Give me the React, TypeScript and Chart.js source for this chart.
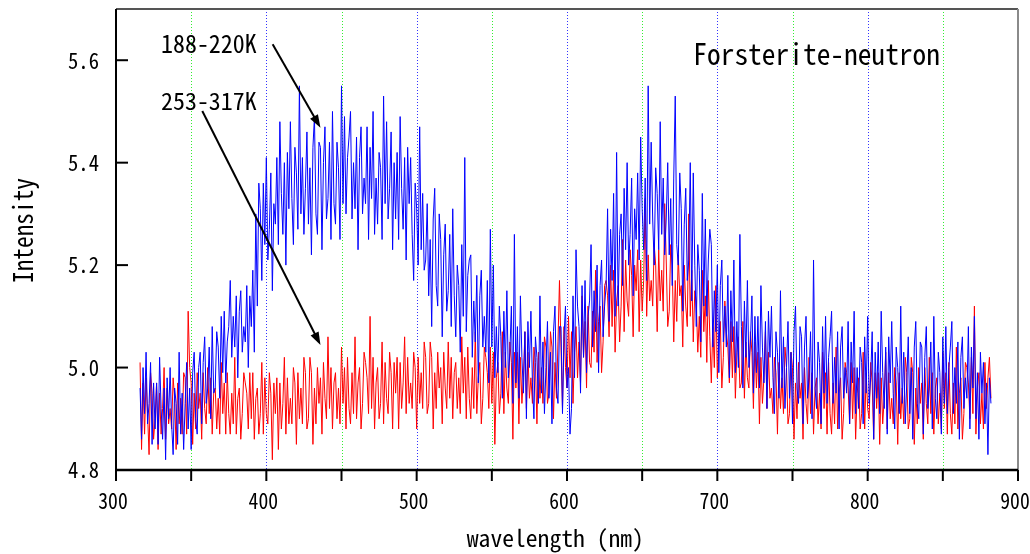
import React, { useEffect, useRef } from "react";
import { Chart, registerables } from "chart.js";

Chart.register(...registerables);

// ---------------- data ----------------
const wavelengthStart = 316; // nm
const wavelengthStep = 1; // nm

// 188-220K (blue), 316..882 nm
const intensity188to220K = [
  4.96, 4.86, 5.00, 4.91, 5.03, 4.89, 4.93, 5.01, 4.85, 4.97,
  4.88, 4.97, 4.85, 5.02, 4.92, 4.86, 4.96, 4.82, 4.98, 4.90,
  5.00, 4.89, 4.83, 4.96, 4.93, 4.85, 5.03, 4.87, 4.95, 4.84,
  4.93, 5.01, 4.88, 4.96, 4.84, 4.99, 5.03, 4.90, 4.87, 5.00,
  5.03, 4.89, 5.01, 5.06, 4.93, 4.96, 5.04, 4.90, 5.08, 4.95,
  4.96, 5.07, 5.04, 4.94, 5.10, 4.99, 5.11, 4.97, 5.05, 5.08,
  5.17, 5.02, 5.10, 5.04, 5.14, 4.98, 5.11, 5.15, 5.03, 5.08,
  5.05, 5.16, 5.00, 5.14, 5.08, 5.19, 5.03, 5.30, 5.12, 5.36,
  5.31, 5.17, 5.36, 5.24, 5.41, 5.21, 5.27, 5.38, 5.15, 5.32,
  5.28, 5.41, 5.24, 5.48, 5.34, 5.26, 5.40, 5.20, 5.42, 5.31,
  5.48, 5.33, 5.24, 5.43, 5.38, 5.27, 5.55, 5.30, 5.41, 5.26,
  5.35, 5.46, 5.28, 5.39, 5.22, 5.43, 5.49, 5.30, 5.26, 5.44,
  5.43, 5.23, 5.40, 5.47, 5.29, 5.33, 5.44, 5.25, 5.50, 5.32,
  5.28, 5.44, 5.39, 5.25, 5.55, 5.32, 5.49, 5.30, 5.41, 5.45,
  5.50, 5.29, 5.40, 5.31, 5.45, 5.23, 5.41, 5.47, 5.30, 5.37,
  5.32, 5.47, 5.25, 5.43, 5.33, 5.50, 5.26, 5.37, 5.28, 5.42,
  5.39, 5.25, 5.53, 5.32, 5.48, 5.29, 5.35, 5.46, 5.23, 5.40,
  5.29, 5.42, 5.25, 5.49, 5.35, 5.27, 5.41, 5.21, 5.43, 5.32,
  5.41, 5.26, 5.17, 5.36, 5.31, 5.20, 5.47, 5.23, 5.34, 5.19,
  5.21, 5.32, 5.14, 5.25, 5.08, 5.29, 5.35, 5.16, 5.12, 5.30,
  5.25, 5.06, 5.22, 5.28, 5.11, 5.15, 5.26, 5.08, 5.31, 5.14,
  5.06, 5.20, 5.16, 5.03, 5.24, 5.10, 5.41, 5.07, 5.18, 5.21,
  5.22, 5.02, 5.13, 5.05, 5.18, 4.97, 5.14, 5.19, 5.04, 5.10,
  5.03, 5.17, 4.97, 5.27, 5.04, 5.20, 4.98, 5.08, 4.99, 5.12,
  5.06, 4.94, 5.11, 5.00, 5.15, 4.98, 5.03, 5.12, 4.93, 5.26,
  4.97, 5.08, 4.94, 5.14, 5.02, 4.95, 5.07, 4.90, 5.09, 5.00,
  5.11, 4.97, 4.90, 5.06, 5.02, 4.93, 5.14, 4.95, 5.05, 4.91,
  5.00, 5.09, 4.94, 5.03, 4.89, 5.07, 5.12, 4.96, 4.93, 5.08,
  5.08, 4.91, 5.06, 5.12, 4.96, 5.00, 4.87, 4.92, 5.14, 4.98,
  5.23, 5.12, 5.08, 4.95, 5.16, 5.02, 5.17, 4.99, 5.10, 5.13,
  5.24, 5.04, 5.15, 5.07, 5.20, 4.99, 5.16, 5.21, 5.06, 5.12,
  5.16, 5.31, 5.09, 5.27, 5.17, 5.34, 5.10, 5.42, 5.12, 5.26,
  5.30, 5.16, 5.35, 5.23, 5.40, 5.20, 5.26, 5.37, 5.14, 5.31,
  5.25, 5.38, 5.21, 5.45, 5.31, 5.23, 5.37, 5.17, 5.55, 5.28,
  5.44, 5.29, 5.20, 5.39, 5.34, 5.23, 5.48, 5.26, 5.37, 5.22,
  5.29, 5.40, 5.22, 5.33, 5.16, 5.37, 5.53, 5.24, 5.20, 5.38,
  5.31, 5.11, 5.28, 5.35, 5.17, 5.21, 5.40, 5.13, 5.38, 5.20,
  5.08, 5.24, 5.19, 5.05, 5.34, 5.12, 5.29, 5.10, 5.21, 5.27,
  5.24, 5.04, 5.15, 5.07, 5.20, 4.99, 5.16, 5.21, 5.05, 5.12,
  5.04, 5.18, 4.98, 5.15, 5.05, 5.21, 4.99, 5.09, 5.00, 5.26,
  5.08, 4.96, 5.13, 5.02, 5.17, 5.00, 5.05, 5.14, 4.95, 5.10,
  4.99, 5.10, 4.96, 5.16, 5.04, 4.97, 5.09, 4.92, 5.11, 5.02,
  5.12, 4.98, 4.91, 5.07, 5.03, 4.94, 5.15, 4.96, 5.06, 4.92,
  5.00, 5.09, 4.94, 5.03, 4.89, 5.07, 5.12, 4.96, 4.93, 5.08,
  5.06, 4.89, 5.04, 5.10, 4.94, 4.98, 5.07, 4.90, 5.21, 4.96,
  4.92, 5.05, 5.01, 4.89, 5.08, 4.95, 5.10, 4.93, 5.02, 5.06,
  5.11, 4.93, 5.02, 4.95, 5.07, 4.88, 5.04, 5.08, 4.94, 5.00,
  4.95, 5.09, 4.89, 5.05, 4.97, 5.11, 4.91, 5.00, 4.92, 5.04,
  5.01, 4.89, 5.06, 4.95, 5.10, 4.93, 4.98, 5.07, 4.86, 5.03,
  4.94, 5.05, 4.91, 5.11, 4.99, 4.92, 5.04, 4.87, 5.06, 4.97,
  5.09, 4.95, 4.88, 5.04, 5.00, 4.91, 5.12, 4.93, 5.03, 4.89,
  4.97, 5.06, 4.91, 5.00, 4.86, 5.04, 5.09, 4.93, 4.90, 5.05,
  5.04, 4.87, 5.02, 5.08, 4.92, 4.96, 5.05, 4.88, 5.10, 4.94,
  4.90, 5.03, 4.99, 4.87, 5.06, 4.93, 5.08, 4.91, 5.00, 5.04,
  5.09, 4.91, 5.00, 4.93, 5.05, 4.86, 5.02, 5.06, 4.92, 4.98,
  4.94, 5.08, 4.88, 5.04, 4.96, 5.10, 4.90, 4.99, 4.86, 5.03,
  4.95, 5.01, 4.89, 4.97, 4.83, 4.98, 4.93,
];

// 253-317K (red), 316..882 nm
const intensity253to317K = [
  5.01, 4.84, 4.97, 4.87, 4.98, 4.91, 4.83, 4.99, 4.95, 4.86,
  4.90, 4.97, 4.84, 4.95, 4.87, 4.92, 5.00, 4.86, 4.96, 4.89,
  4.92, 4.88, 4.98, 4.94, 4.84, 4.97, 4.89, 4.94, 4.87, 4.99,
  4.98, 4.87, 5.11, 5.00, 4.97, 4.85, 4.95, 4.88, 4.99, 4.92,
  4.95, 4.86, 4.99, 4.92, 4.89, 5.00, 4.91, 4.98, 4.87, 4.95,
  4.96, 4.88, 4.94, 4.87, 5.01, 4.91, 4.97, 4.87, 4.99, 4.91,
  4.87, 4.95, 4.89, 5.02, 4.87, 4.94, 4.96, 4.86, 4.91, 4.99,
  4.97, 4.95, 4.88, 4.99, 4.90, 4.99, 4.86, 4.94, 4.96, 4.87,
  4.91, 5.01, 4.87, 4.98, 4.91, 4.89, 4.99, 4.95, 4.82, 4.97,
  4.91, 4.98, 4.84, 4.97, 4.88, 4.93, 5.02, 4.87, 4.98, 4.89,
  4.94, 4.89, 5.00, 4.97, 4.85, 4.99, 4.90, 4.96, 4.89, 5.02,
  4.99, 4.88, 4.90, 5.02, 4.99, 4.85, 4.96, 4.89, 5.00, 4.93,
  4.98, 4.87, 5.01, 4.94, 4.90, 5.06, 4.92, 5.00, 4.88, 4.97,
  4.99, 4.90, 4.96, 4.89, 5.04, 4.93, 5.00, 4.88, 5.02, 4.92,
  4.89, 4.99, 4.91, 5.06, 4.90, 4.97, 5.00, 4.88, 4.93, 5.03,
  5.01, 4.98, 4.91, 5.10, 4.92, 5.02, 4.88, 4.97, 5.00, 4.90,
  4.93, 5.05, 4.89, 5.01, 4.94, 4.91, 5.03, 4.99, 4.88, 5.01,
  4.95, 5.02, 4.88, 5.01, 4.92, 4.97, 5.06, 4.91, 5.02, 4.93,
  4.97, 4.92, 5.03, 5.00, 4.88, 5.02, 4.93, 4.99, 4.92, 5.05,
  5.02, 4.91, 4.93, 5.05, 5.02, 4.88, 4.99, 4.92, 5.03, 4.96,
  5.00, 4.89, 5.03, 4.96, 4.92, 5.05, 4.94, 5.02, 4.90, 4.99,
  5.01, 4.92, 4.98, 4.91, 5.06, 4.95, 5.02, 4.90, 5.04, 4.94,
  4.90, 5.00, 4.92, 5.07, 4.91, 4.98, 5.01, 4.89, 4.94, 5.04,
  5.02, 4.99, 4.92, 5.04, 4.93, 5.03, 4.85, 4.98, 5.01, 4.91,
  4.95, 5.07, 4.91, 5.03, 4.96, 4.93, 5.05, 5.01, 4.86, 5.03,
  4.96, 5.03, 4.89, 5.02, 4.93, 4.98, 5.07, 4.92, 5.03, 4.94,
  4.98, 4.93, 5.04, 5.01, 4.89, 5.03, 4.94, 5.00, 4.93, 5.06,
  5.04, 4.93, 4.95, 5.07, 5.04, 4.90, 5.01, 4.94, 5.05, 5.17,
  5.04, 4.92, 5.08, 5.00, 4.96, 5.10, 4.98, 5.07, 4.93, 5.03,
  5.08, 4.98, 5.05, 4.97, 5.14, 5.02, 5.09, 4.96, 5.12, 5.01,
  5.00, 5.11, 5.03, 5.19, 5.01, 5.09, 5.12, 4.99, 5.05, 5.16,
  5.17, 5.14, 5.06, 5.20, 5.08, 5.19, 5.03, 5.13, 5.16, 5.05,
  5.12, 5.25, 5.07, 5.21, 5.13, 5.10, 5.23, 5.18, 5.06, 5.20,
  5.15, 5.23, 5.07, 5.21, 5.11, 5.17, 5.33, 5.10, 5.22, 5.13,
  5.17, 5.12, 5.24, 5.20, 5.07, 5.23, 5.13, 5.19, 5.11, 5.32,
  5.21, 5.08, 5.11, 5.24, 5.20, 5.05, 5.17, 5.09, 5.22, 5.14,
  5.16, 5.04, 5.20, 5.12, 5.08, 5.30, 5.10, 5.19, 5.05, 5.15,
  5.13, 5.03, 5.10, 5.02, 5.19, 5.07, 5.14, 5.01, 5.17, 5.06,
  4.97, 5.08, 5.00, 5.16, 4.98, 5.06, 5.09, 4.96, 5.02, 5.13,
  5.07, 5.04, 4.97, 5.09, 4.98, 5.08, 4.94, 5.03, 5.06, 4.96,
  4.97, 5.09, 4.94, 5.05, 4.98, 4.96, 5.07, 5.03, 4.92, 5.05,
  4.96, 5.03, 4.89, 5.02, 4.93, 4.98, 5.07, 4.92, 5.03, 4.94,
  4.96, 4.91, 5.02, 4.99, 4.87, 5.01, 4.92, 4.98, 4.91, 5.04,
  5.00, 4.89, 4.91, 5.03, 5.00, 4.86, 4.97, 4.90, 5.01, 4.94,
  4.97, 4.86, 5.00, 4.93, 4.89, 5.02, 4.91, 4.99, 4.87, 4.96,
  4.98, 4.89, 4.95, 4.88, 5.03, 4.92, 4.99, 4.87, 5.01, 4.91,
  4.87, 4.97, 4.89, 5.04, 4.88, 4.95, 4.98, 4.86, 4.91, 5.01,
  4.99, 4.96, 4.89, 5.01, 4.90, 5.00, 4.86, 4.95, 4.98, 4.88,
  4.91, 5.03, 4.88, 4.99, 4.92, 4.90, 5.01, 4.97, 4.86, 4.99,
  4.92, 4.99, 4.85, 4.98, 4.89, 4.94, 5.03, 4.88, 4.99, 4.90,
  4.94, 4.89, 5.00, 4.97, 4.85, 4.99, 4.90, 4.96, 4.89, 5.02,
  4.99, 4.88, 4.90, 5.02, 4.99, 4.85, 4.96, 4.89, 5.00, 4.93,
  4.97, 4.86, 5.00, 4.93, 4.89, 5.02, 4.91, 4.99, 4.87, 4.96,
  4.98, 4.89, 4.95, 4.88, 5.03, 4.92, 4.99, 4.87, 5.01, 4.91,
  4.87, 4.97, 4.89, 5.04, 4.88, 4.95, 4.98, 4.86, 4.91, 5.01,
  5.00, 4.97, 4.90, 5.02, 4.91, 5.12, 4.87, 4.96, 4.99, 4.89,
  4.95, 4.88, 5.01, 4.92, 4.98, 5.02, 4.94,
];

const xMajorTicks = [300, 400, 500, 600, 700, 800, 900];
const xMajorTickLabels = ["300", "400", "500", "600", "700", "800", "900"];
const xMinorTicks = [350, 450, 550, 650, 750, 850];
const yTicks = [4.8, 5.0, 5.2, 5.4, 5.6];
const yTickLabels = ["4.8", "5.0", "5.2", "5.4", "5.6"];

const chartTitle = "Forsterite-neutron";
const xAxisTitle = "wavelength (nm)";
const yAxisTitle = "Intensity";
const seriesLabelCold = "188-220K";
const seriesLabelWarm = "253-317K";

// arrows (in data coordinates): [x0, y0, x1, y1]
const arrowCold = [404.2, 5.631, 436, 5.468];
const arrowWarm = [357.4, 5.501, 436, 5.044];

// ---------------- styling ----------------
const FONT = '"Noto Sans Mono CJK JP", "Noto Sans CJK JP", "DejaVu Sans Mono", monospace';

function toPoints(values: number[]) {
  return values.map((v, i) => ({ x: wavelengthStart + i * wavelengthStep, y: v }));
}

function drawText(
  ctx: CanvasRenderingContext2D,
  text: string,
  x: number,
  y: number,
  size: number,
  targetWidth: number,
  align: CanvasTextAlign,
  rotate = 0
) {
  ctx.save();
  ctx.font = `${size}px ${FONT}`;
  const w = ctx.measureText(text).width;
  const sx = targetWidth && w ? targetWidth / w : 1;
  ctx.translate(x, y);
  if (rotate) ctx.rotate(rotate);
  ctx.scale(sx, 1);
  ctx.textAlign = align;
  ctx.textBaseline = "alphabetic";
  ctx.fillStyle = "#000";
  ctx.fillText(text, 0, 0);
  ctx.restore();
}

function drawArrow(ctx: CanvasRenderingContext2D, x0: number, y0: number, x1: number, y1: number) {
  const ang = Math.atan2(y1 - y0, x1 - x0);
  const headLen = 13;
  const headHalf = 4.5;
  ctx.save();
  ctx.strokeStyle = "#000";
  ctx.fillStyle = "#000";
  ctx.lineWidth = 2;
  ctx.beginPath();
  ctx.moveTo(x0, y0);
  ctx.lineTo(x1 - Math.cos(ang) * headLen * 0.8, y1 - Math.sin(ang) * headLen * 0.8);
  ctx.stroke();
  ctx.beginPath();
  ctx.moveTo(x1, y1);
  ctx.lineTo(
    x1 - Math.cos(ang) * headLen - Math.sin(ang) * headHalf,
    y1 - Math.sin(ang) * headLen + Math.cos(ang) * headHalf
  );
  ctx.lineTo(
    x1 - Math.cos(ang) * headLen + Math.sin(ang) * headHalf,
    y1 - Math.sin(ang) * headLen - Math.cos(ang) * headHalf
  );
  ctx.closePath();
  ctx.fill();
  ctx.restore();
}

const decorPlugin = {
  id: "decor",
  beforeDatasetsDraw(chart: any) {
    const { ctx, chartArea, scales } = chart;
    const xs = scales.x;
    ctx.save();
    ctx.lineWidth = 1;
    ctx.setLineDash([1, 2]);
    const drawV = (v: number, color: string) => {
      const px = Math.round(xs.getPixelForValue(v)) + 0.5;
      ctx.strokeStyle = color;
      ctx.beginPath();
      ctx.moveTo(px, chartArea.top);
      ctx.lineTo(px, chartArea.bottom);
      ctx.stroke();
    };
    xMinorTicks.forEach((v) => drawV(v, "#33ee33"));
    xMajorTicks.slice(1, -1).forEach((v) => drawV(v, "#3333ff"));
    ctx.restore();
  },
  afterDatasetsDraw(chart: any) {
    const { ctx, chartArea, scales } = chart;
    const xs = scales.x;
    const ys = scales.y;
    const { left, right, top, bottom } = chartArea;
    ctx.save();
    ctx.setLineDash([]);
    // frame top & right
    ctx.lineWidth = 2;
    ctx.strokeStyle = "#555";
    ctx.beginPath();
    ctx.moveTo(left, top);
    ctx.lineTo(right, top);
    ctx.stroke();
    ctx.strokeStyle = "#8a8a8a";
    ctx.beginPath();
    ctx.moveTo(right, top);
    ctx.lineTo(right, bottom);
    ctx.stroke();
    // axes
    ctx.strokeStyle = "#000";
    ctx.lineWidth = 2;
    ctx.beginPath();
    ctx.moveTo(left, top);
    ctx.lineTo(left, bottom + 11);
    ctx.stroke();
    ctx.lineWidth = 2.5;
    ctx.beginPath();
    ctx.moveTo(left, bottom);
    ctx.lineTo(right, bottom);
    ctx.stroke();
    // x ticks (outward)
    ctx.lineWidth = 2;
    [...xMajorTicks, ...xMinorTicks].forEach((v) => {
      const px = xs.getPixelForValue(v);
      ctx.beginPath();
      ctx.moveTo(px, bottom);
      ctx.lineTo(px, bottom + 11);
      ctx.stroke();
    });
    // y ticks (inward)
    yTicks.forEach((v) => {
      const py = ys.getPixelForValue(v);
      ctx.beginPath();
      ctx.moveTo(left, py);
      ctx.lineTo(left + 12, py);
      ctx.stroke();
    });
    ctx.restore();

    // tick labels
    yTicks.forEach((v, i) => {
      const py = ys.getPixelForValue(v);
      drawText(ctx, yTickLabels[i], 99, py + 8.3, 22.6, 31, "right");
    });
    xMajorTicks.forEach((v, i) => {
      const px = xs.getPixelForValue(v);
      drawText(ctx, xMajorTickLabels[i], px - 3, 509.3, 22, 29.5, "center");
    });

    // axis titles
    drawText(ctx, xAxisTitle, 555.3, 546.7, 23.5, 177, "center");
    drawText(ctx, yAxisTitle, 33, 230.5, 27, 105, "center", -Math.PI / 2);

    // annotations
    drawText(ctx, chartTitle, 693.3, 65, 29.5, 246.7, "left");
    drawText(ctx, seriesLabelCold, 161, 53.3, 25, 95.7, "left");
    drawText(ctx, seriesLabelWarm, 161, 110, 24, 95.7, "left");

    const toPx = (a: number[]) => [
      xs.getPixelForValue(a[0]),
      ys.getPixelForValue(a[1]),
      xs.getPixelForValue(a[2]),
      ys.getPixelForValue(a[3]),
    ];
    const a1 = toPx(arrowCold);
    const a2 = toPx(arrowWarm);
    drawArrow(ctx, a1[0], a1[1], a1[2], a1[3]);
    drawArrow(ctx, a2[0], a2[1], a2[2], a2[3]);
  },
};

export default function App() {
  const canvasRef = useRef<HTMLCanvasElement | null>(null);

  useEffect(() => {
    const canvas = canvasRef.current;
    if (!canvas) return;
    const chart = new Chart(canvas, {
      type: "line",
      data: {
        datasets: [
          {
            label: seriesLabelCold,
            data: toPoints(intensity188to220K),
            borderColor: "#0000ff",
            backgroundColor: "#0000ff",
            borderWidth: 1,
            pointRadius: 0,
            tension: 0,
            fill: false,
          },
          {
            label: seriesLabelWarm,
            data: toPoints(intensity253to317K),
            borderColor: "#ff0000",
            backgroundColor: "#ff0000",
            borderWidth: 1,
            pointRadius: 0,
            tension: 0,
            fill: false,
          },
        ],
      },
      options: {
        animation: false,
        responsive: true,
        maintainAspectRatio: false,
        layout: { padding: { top: 9, right: 12, left: 0, bottom: 0 } },
        plugins: {
          legend: { display: false },
          tooltip: { enabled: false },
          title: { display: false },
        },
        scales: {
          x: {
            type: "linear",
            min: 300,
            max: 900,
            grid: { display: false },
            border: { display: false },
            ticks: { display: false },
            afterFit: (s: any) => {
              s.height = 84;
            },
          },
          y: {
            type: "linear",
            min: 4.8,
            max: 5.7,
            grid: { display: false },
            border: { display: false },
            ticks: { display: false },
            afterFit: (s: any) => {
              s.width = 116;
            },
          },
        },
      },
      plugins: [decorPlugin],
    });
    return () => chart.destroy();
  }, []);

  return (
    <div style={{ position: "fixed", left: 0, top: 0, width: 1030, height: 554, background: "#fff" }}>
      <canvas ref={canvasRef} />
    </div>
  );
}
